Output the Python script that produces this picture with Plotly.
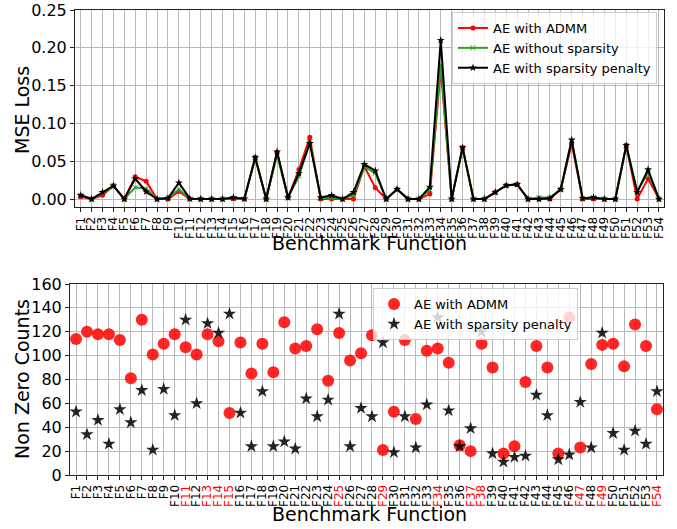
import plotly.graph_objects as go

funcs = [f"F{i}" for i in range(1, 55)]
idx = list(range(1, 55))

mse_admm = [0.003, 0.0, 0.005, 0.0176, 0.0, 0.0295, 0.0234, 0.0, 0.0, 0.0101,
            0.0, 0.0, 0.0, 0.0, 0.0005, 0.0, 0.055, 0.0, 0.062, 0.002,
            0.039, 0.0816, 0.0, 0.0, 0.0, 0.0, 0.043, 0.015, 0.0, 0.013,
            0.0, 0.0, 0.0066, 0.172, 0.0, 0.068, 0.0, 0.0, 0.009, 0.018,
            0.0194, 0.0, 0.0, 0.0, 0.013, 0.073, 0.0, 0.0, 0.0, 0.0,
            0.071, 0.0, 0.027, 0.0]
mse_nosparse = [0.005, 0.0, 0.0075, 0.0176, 0.0, 0.0155, 0.0137, 0.0, 0.002, 0.0128,
                0.0, 0.0, 0.0, 0.0, 0.001, 0.0, 0.055, 0.0, 0.058, 0.002,
                0.030, 0.076, 0.001, 0.002, 0.0, 0.005, 0.043, 0.034, 0.0, 0.013,
                0.0, 0.0, 0.012, 0.178, 0.0, 0.068, 0.0, 0.0, 0.009, 0.018,
                0.0194, 0.0, 0.002, 0.002, 0.013, 0.078, 0.001, 0.002, 0.0, 0.0,
                0.071, 0.010, 0.035, 0.0]
mse_penalty = [0.005, 0.0, 0.009, 0.0176, 0.0, 0.027, 0.0097, 0.0, 0.001, 0.0216,
               0.0005, 0.0, 0.0, 0.0, 0.002, 0.0005, 0.055, 0.0, 0.0626, 0.002,
               0.034, 0.0736, 0.002, 0.005, 0.0, 0.009, 0.046, 0.0375, 0.0, 0.013,
               0.0, 0.0, 0.016, 0.210, 0.0, 0.068, 0.0, 0.0, 0.009, 0.018,
               0.0194, 0.0, 0.0, 0.001, 0.013, 0.078, 0.001, 0.002, 0.0, 0.0,
               0.071, 0.009, 0.039, 0.0]

nz_admm = [114, 120, 118, 118, 113, 81, 130, 101, 110, 118,
           107, 101, 118, 112, 52, 111, 85, 110, 86, 128,
           106, 108, 122, 79, 119, 96, 102, 117, 21, 53,
           113, 47, 104, 106, 94, 25, 20, 110, 90, 18,
           24, 78, 108, 90, 18, 132, 23, 93, 109, 110,
           91, 126, 108, 55]
nz_penalty = [53, 34, 46, 26, 55, 44, 71, 21, 72, 50,
              130, 60, 127, 119, 135, 52, 24, 70, 24, 28,
              22, 64, 49, 63, 135, 24, 56, 49, 111, 19,
              49, 23, 59, 132, 54, 24, 39, 120, 18, 11,
              15, 16, 67, 50, 13, 17, 61, 23, 119, 35,
              21, 37, 26, 70]

red_labels = {"F11", "F13", "F14", "F15", "F25", "F29", "F34", "F37", "F38", "F47", "F49", "F54"}
bottom_ticktext = [f"<span style='color:red'>{f}</span>" if f in red_labels else f for f in funcs]

W, H = 677, 529
FONT = "DejaVu Sans"

fig = go.Figure()

fig.add_trace(go.Scatter(x=idx, y=mse_admm, mode="lines+markers", name="AE with ADMM",
                         line=dict(color="#ff0000", width=2),
                         marker=dict(symbol="circle", size=5, color="#ff0000"),
                         xaxis="x", yaxis="y"))
fig.add_trace(go.Scatter(x=idx, y=mse_nosparse, mode="lines+markers", name="AE without sparsity",
                         line=dict(color="#2ca02c", width=2),
                         marker=dict(symbol="x-thin", size=5, color="#2ca02c",
                                     line=dict(color="#2ca02c", width=1)),
                         xaxis="x", yaxis="y"))
fig.add_trace(go.Scatter(x=idx, y=mse_penalty, mode="lines+markers", name="AE with sparsity penalty",
                         line=dict(color="#000000", width=2),
                         marker=dict(symbol="star", size=6, color="#000000"),
                         xaxis="x", yaxis="y"))

fig.add_trace(go.Scatter(x=idx, y=nz_admm, mode="markers", name="AE with ADMM",
                         marker=dict(symbol="circle", size=12, color="rgba(255,0,0,0.85)"),
                         xaxis="x2", yaxis="y2", legend="legend2"))
fig.add_trace(go.Scatter(x=idx, y=nz_penalty, mode="markers", name="AE with sparsity penalty",
                         marker=dict(symbol="star", size=10, color="rgba(0,0,0,0.85)"),
                         xaxis="x2", yaxis="y2", legend="legend2"))

def px_x(p):
    return p / W

def px_y(p):
    return 1 - p / H

axis_common = dict(showline=True, linecolor="#222", linewidth=1, mirror=True,
                   showgrid=True, gridcolor="#b8b8b8", gridwidth=1, automargin=False,
                   ticks="outside", ticklen=4, tickcolor="#222", zeroline=False)

fig.update_layout(
    width=W, height=H,
    margin=dict(l=0, r=0, t=0, b=0),
    paper_bgcolor="white", plot_bgcolor="white",
    font=dict(family=FONT, color="black"),
    xaxis=dict(domain=[px_x(75), px_x(664)], anchor="y", range=[0.48, 54.46],
               tickmode="array", tickvals=idx, ticktext=funcs, tickangle=-90,
               tickfont=dict(size=12), **axis_common),
    yaxis=dict(domain=[px_y(207), px_y(10)], anchor="x", range=[-0.0105, 0.25],
               tickmode="array", tickvals=[0, 0.05, 0.10, 0.15, 0.20, 0.25],
               tickformat=".2f", tickfont=dict(size=16), **axis_common),
    xaxis2=dict(domain=[px_x(70), px_x(663)], anchor="y2", range=[0.45, 54.55],
                tickmode="array", tickvals=idx, ticktext=bottom_ticktext, tickangle=-90,
                tickfont=dict(size=12), **axis_common),
    yaxis2=dict(domain=[px_y(475), px_y(284)], anchor="x2", range=[0, 160],
                tickmode="array", tickvals=[0, 20, 40, 60, 80, 100, 120, 140, 160],
                tickfont=dict(size=16), **axis_common),
    legend=dict(x=px_x(657), y=px_y(12), xanchor="right", yanchor="top",
                bgcolor="rgba(255,255,255,0.8)", bordercolor="#cccccc", borderwidth=1,
                font=dict(size=13), tracegroupgap=0),
    legend2=dict(x=px_x(373), y=px_y(288), xanchor="left", yanchor="top",
                 bgcolor="rgba(255,255,255,0.8)", bordercolor="#cccccc", borderwidth=1,
                 font=dict(size=13), tracegroupgap=0),
    showlegend=True,
    annotations=[
        dict(text="MSE Loss", x=px_x(22), y=px_y(110), xref="paper", yref="paper",
             textangle=-90, showarrow=False, font=dict(size=19), xanchor="center", yanchor="middle"),
        dict(text="Benchmark Function", x=px_x(369), y=px_y(243), xref="paper", yref="paper",
             showarrow=False, font=dict(size=19), xanchor="center", yanchor="middle"),
        dict(text="Non Zero Counts", x=px_x(22), y=px_y(379), xref="paper", yref="paper",
             textangle=-90, showarrow=False, font=dict(size=19), xanchor="center", yanchor="middle"),
        dict(text="Benchmark Function", x=px_x(369), y=px_y(514), xref="paper", yref="paper",
             showarrow=False, font=dict(size=19), xanchor="center", yanchor="middle"),
    ],
)

fig.write_html("out.html", config={"displayModeBar": False},
               post_script="document.body.style.margin='0';document.body.style.overflow='hidden';")
